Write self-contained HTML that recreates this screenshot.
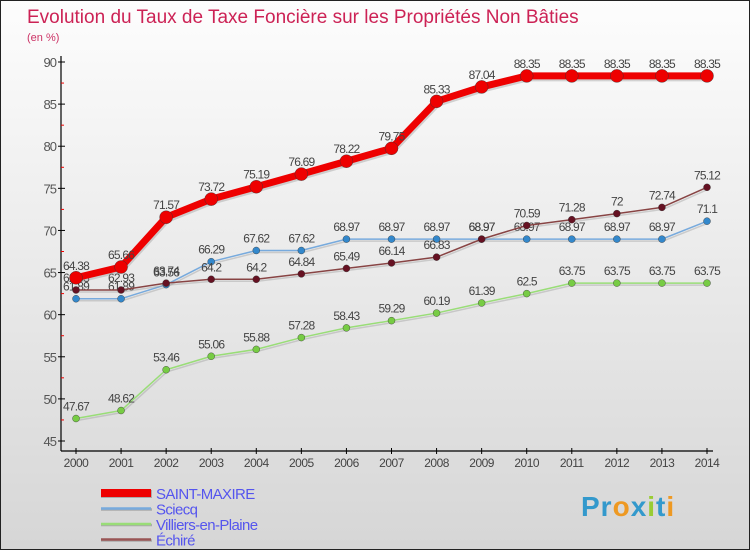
<!DOCTYPE html>
<html><head><meta charset="utf-8">
<style>
body{margin:0;width:750px;height:550px;overflow:hidden;font-family:"Liberation Sans",sans-serif}
#wrap{position:relative;width:748px;height:548px;border:1px solid #222;background:linear-gradient(#fdfdfd,#d6d6d6)}
</style></head><body>
<div id="wrap">
<svg id="c" width="748" height="548" xmlns="http://www.w3.org/2000/svg"></svg>
</div>
<script>
const years=[2000,2001,2002,2003,2004,2005,2006,2007,2008,2009,2010,2011,2012,2013,2014];
const yTicks=[45,50,55,60,65,70,75,80,85,90];
const saintMaxire=[64.38,65.66,71.57,73.72,75.19,76.69,78.22,79.75,85.33,87.04,88.35,88.35,88.35,88.35,88.35];
const sciecq=[61.89,61.89,63.56,66.29,67.62,67.62,68.97,68.97,68.97,68.97,68.97,68.97,68.97,68.97,71.1];
const villiers=[47.67,48.62,53.46,55.06,55.88,57.28,58.43,59.29,60.19,61.39,62.5,63.75,63.75,63.75,63.75];
const echire=[62.93,62.93,63.74,64.2,64.2,64.84,65.49,66.14,66.83,68.97,70.59,71.28,72,72.74,75.12];
const seriesNames=["SAINT-MAXIRE","Sciecq","Villiers-en-Plaine","Échiré"];

const svg=document.getElementById('c');
const NS="http://www.w3.org/2000/svg";
const X=i=>75+i*(631/14);
const Y=v=>61+(90-v)*(379/45);
function mk(t,a,p){const e=document.createElementNS(NS,t);for(const k in a)e.setAttribute(k,a[k]);(p||svg).appendChild(e);return e;}

let t=mk('text',{x:26,y:22,'font-size':19,fill:'#cc2255'});t.textContent="Evolution du Taux de Taxe Foncière sur les Propriétés Non Bâties";


t=mk('text',{x:26,y:40,'font-size':11,fill:'#cc3366'});t.textContent="(en %)";



let ax=mk('line',{x1:60,y1:55,x2:60,y2:450,stroke:'#000','stroke-width':1.2});


ax=mk('line',{x1:60,y1:450,x2:712,y2:450,stroke:'#000','stroke-width':1.2});


yTicks.forEach((v,i)=>{
  mk('line',{x1:57,y1:Y(v),x2:64,y2:Y(v),stroke:'#000'});
  if(i>0) mk('line',{x1:60,y1:Y(v-2.5),x2:63,y2:Y(v-2.5),stroke:'#e00'});
  const l=mk('text',{x:55,y:Y(v)+5,'font-size':13,fill:'#555','text-anchor':'end','letter-spacing':'-1'});l.textContent=v;
  
  
});
years.forEach((yr,i)=>{
  mk('line',{x1:X(i),y1:447,x2:X(i),y2:453,stroke:'#000'});
  const l=mk('text',{x:X(i),y:466,'font-size':12,fill:'#444','text-anchor':'middle','letter-spacing':'-0.5'});l.textContent=yr;
  
  
});

function draw(data,name,color,dot,w,r){
  const g=mk('g',{});
  
  
  const pts=data.map((v,i)=>X(i)+','+Y(v)).join(' ');
  mk('polyline',{points:pts,fill:'none',stroke:'#999','stroke-width':w,opacity:0.4,transform:'translate(1,2)'},g);
  mk('polyline',{points:pts,fill:'none',stroke:color,'stroke-width':w,'stroke-linejoin':'round'},g);
  data.forEach((v,i)=>{
    const c=mk('circle',{cx:X(i),cy:Y(v),r:r,fill:dot,stroke:'#333','stroke-width':0.4},g);
    
    
    const l=mk('text',{x:X(i),y:Y(v)-8,'font-size':12,fill:'#444','text-anchor':'middle','letter-spacing':'-0.8'},g);l.textContent=v;
    
    
  });
}
draw(villiers,'villiers','#99dd77','#77cc44',1.5,3.5);
draw(sciecq,'sciecq','#77aadd','#3388cc',1.5,3.5);
draw(echire,'echire','#884444','#661122',1.5,3.5);
draw(saintMaxire,'saint-maxire','#ee0000','#ee0000',7,6.5);

const leg=[['#ee0000',8],['#77aadd',2.5],['#99dd77',2.5],['#995555',2.5]];
seriesNames.forEach((n,i)=>{
  const y=492+i*15.5;
  const g=mk('g',{});
  
  
  mk('line',{x1:100,y1:y+1,x2:151,y2:y+1,stroke:'#aaa','stroke-width':leg[i][1]},g);
  mk('line',{x1:100,y1:y,x2:150,y2:y,stroke:leg[i][0],'stroke-width':leg[i][1]},g);
  const l=mk('text',{x:155,y:y+6,'font-size':15,fill:'#5555ee','letter-spacing':'-0.6'},g);l.textContent=n;
});
const logo=mk('text',{x:580,y:515,'font-size':28,'font-weight':'bold',fill:'#3399cc','letter-spacing':'1'});
logo.innerHTML='<tspan fill="#3399cc">Pr</tspan><tspan fill="#ee9922">o</tspan><tspan fill="#3399cc">x</tspan><tspan fill="#99cc33">i</tspan><tspan fill="#3399cc">t</tspan><tspan fill="#ee9922">i</tspan>';


</script>
</body></html>
